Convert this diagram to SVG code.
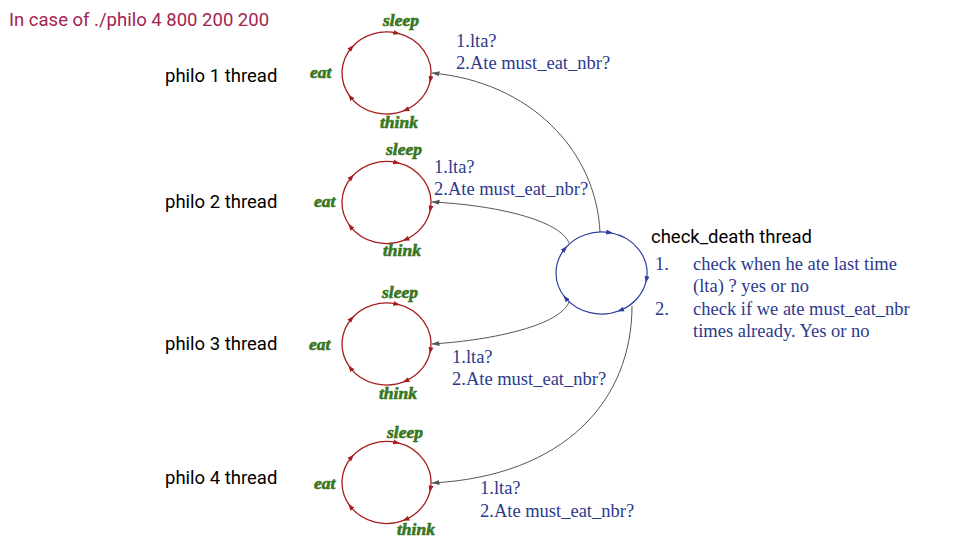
<svg xmlns="http://www.w3.org/2000/svg" xmlns:xlink="http://www.w3.org/1999/xlink" width="960" height="540" viewBox="0 0 960 540">
<style>
.sans{font-family:Roboto,"Liberation Sans",sans-serif;font-size:18.5px;fill:#000}
.title{fill:#a32350}
.state{font-family:"Liberation Serif","DejaVu Serif",serif;font-style:italic;font-weight:bold;font-size:17.5px;fill:#38761d;stroke:#38761d;stroke-width:0.6}
.q{font-family:"Liberation Serif","Times New Roman",serif;font-size:18.5px;fill:#2c3a8c}
.conn{fill:none;stroke:#555;stroke-width:1}
.red{fill:none;stroke:#a51d1d;stroke-width:1.3}
.blue{fill:none;stroke:#2e3f9e;stroke-width:1.2}
</style>
<defs>
<marker id="ar" markerWidth="7" markerHeight="6" refX="4" refY="3" orient="auto" markerUnits="userSpaceOnUse"><path d="M0,0.5 L7,3 L0,5.5 z" fill="#a51d1d"/></marker>
<marker id="ab" markerWidth="7" markerHeight="6" refX="4" refY="3" orient="auto" markerUnits="userSpaceOnUse"><path d="M0,0.5 L7,3 L0,5.5 z" fill="#2e3f9e"/></marker>
<marker id="ag" markerWidth="8" markerHeight="6" refX="7.5" refY="3" orient="auto" markerUnits="userSpaceOnUse"><path d="M0,0.5 L8,3 L0,5.5 z" fill="#555"/></marker>
<path id="loop" class="red" marker-mid="url(#ar)" marker-end="url(#ar)" d="M10.77,-39.78 A44.5,41 0 0 1 43.82,7.12 A44.5,41 0 0 1 18.81,37.16 A44.5,41 0 0 1 -36.45,23.52 A44.5,41 0 0 1 -34.58,-25.80 A44.5,41 0 0 1 10.77,-39.78"/>
</defs>

<text class="sans title" x="9" y="26">In case of ./philo 4 800 200 200</text>

<g id="connectors">
<path class="conn" marker-end="url(#ag)" d="M600,232 C596,150 530,82 432,73"/>
<path class="conn" marker-end="url(#ag)" d="M569,243 C560,220 495,205 432,202"/>
<path class="conn" marker-end="url(#ag)" d="M569,302 C560,325 495,340 432,344"/>
<path class="conn" marker-end="url(#ag)" d="M632,306 C632,400 565,476 432,483"/>
</g>

<g id="philo1">
<text class="sans" x="165" y="82">philo 1 thread</text>
<use xlink:href="#loop" href="#loop" transform="translate(386.5,73)"/>
<text class="state" x="383" y="26">sleep</text>
<text class="state" x="310" y="78">eat</text>
<text class="state" x="380" y="128">think</text>
<text class="q" x="456" y="47">1.lta?</text>
<text class="q" x="456" y="69">2.Ate must_eat_nbr?</text>
</g>

<g id="philo2">
<text class="sans" x="165" y="208">philo 2 thread</text>
<use xlink:href="#loop" href="#loop" transform="translate(386.5,202.5)"/>
<text class="state" x="386" y="155">sleep</text>
<text class="state" x="314" y="207">eat</text>
<text class="state" x="383" y="256">think</text>
<text class="q" x="434" y="173">1.lta?</text>
<text class="q" x="434" y="195">2.Ate must_eat_nbr?</text>
</g>

<g id="philo3">
<text class="sans" x="165" y="350">philo 3 thread</text>
<use xlink:href="#loop" href="#loop" transform="translate(386.5,344)"/>
<text class="state" x="382" y="298">sleep</text>
<text class="state" x="309" y="350">eat</text>
<text class="state" x="379" y="399">think</text>
<text class="q" x="452" y="363">1.lta?</text>
<text class="q" x="452" y="385">2.Ate must_eat_nbr?</text>
</g>

<g id="philo4">
<text class="sans" x="165" y="484">philo 4 thread</text>
<use xlink:href="#loop" href="#loop" transform="translate(386.5,482.5)"/>
<text class="state" x="387" y="438">sleep</text>
<text class="state" x="314" y="489">eat</text>
<text class="state" x="397" y="535">think</text>
<text class="q" x="480" y="494">1.lta?</text>
<text class="q" x="480" y="517">2.Ate must_eat_nbr?</text>
</g>

<g id="check_death">
<path class="blue" marker-mid="url(#ab)" marker-end="url(#ab)" transform="translate(601.5,273)" d="M8.68,-40.25 A45.5,41 0 0 1 44.8,7.12 A45.5,41 0 0 1 18.5,37.45 A45.5,41 0 0 1 -36.34,24.67 A45.5,41 0 0 1 -36.34,-24.67 A45.5,41 0 0 1 8.68,-40.25"/>
<text class="sans" x="651" y="243">check_death thread</text>
<text class="q" x="655" y="270">1.</text>
<text class="q" x="693" y="270">check when he ate last time</text>
<text class="q" x="693" y="292">(lta) ? yes or no</text>
<text class="q" x="655" y="315">2.</text>
<text class="q" x="693" y="315">check if we ate must_eat_nbr</text>
<text class="q" x="693" y="337">times already. Yes or no</text>
</g>
</svg>
